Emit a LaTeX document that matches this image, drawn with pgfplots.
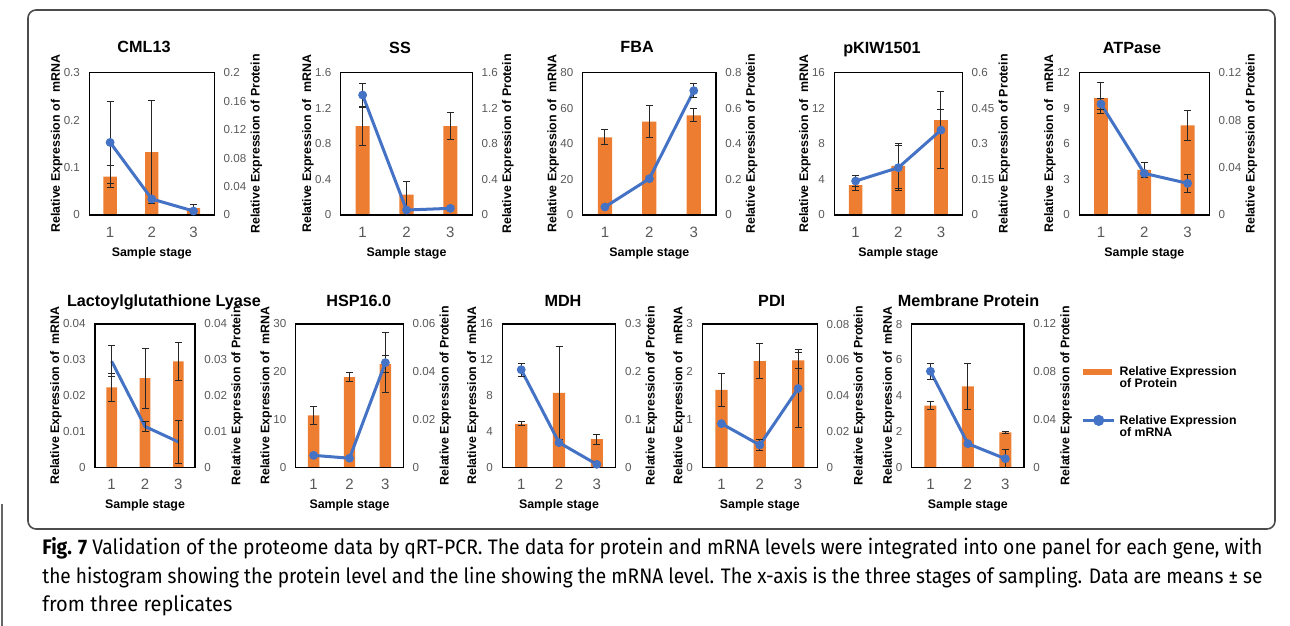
\documentclass[border=0pt]{standalone}
\usepackage{fontspec}
\setmainfont{Liberation Sans}
\newfontfamily\capfont{Fira Sans}
\usepackage{graphicx}
\usepackage{pgfplots}
\pgfplotsset{compat=1.18}

\definecolor{barorange}{HTML}{ED7D31}
\definecolor{lineblue}{HTML}{4472C4}
\definecolor{tickgray}{HTML}{595959}

% 1 px of the reference = 0.5pt
\pgfplotsset{
  every axis title shift=0pt,
  panel/.style={
    scale only axis, anchor=south west,
    xmin=0.5, xmax=3.5, ymin=0,
    axis line style={line width=0.65pt, black},
    major tick length=0pt,
    scaled y ticks=false,
    tick label style={/pgf/number format/assume math mode=true, text=tickgray, inner sep=0pt},
    yticklabel style={font=\fontsize{5.8}{6}\selectfont,
      /pgf/number format/fixed, /pgf/number format/precision=3},
    xticklabel style={font=\fontsize{7.5}{8}\selectfont},
    yticklabel shift=4.5pt, xticklabel shift=5.85pt,
    label style={font=\bfseries\fontsize{6.2}{7}\selectfont, inner sep=0pt},
  },
  protside/.style={panel, ybar, bar width=0.32, xtick=\empty,
    ytick pos=right, yticklabel pos=right,
    ylabel={Relative Expression of Protein}, ylabel shift=2pt},
  mrnaside/.style={panel, xtick={1,2,3}, ytick pos=left, xtick pos=bottom,
    xlabel={Sample stage}, xlabel shift=4.7pt,
    ylabel={Relative Expression of\ \ mRNA}, ylabel shift=0.5pt,
    title style={font=\bfseries\fontsize{8.1}{9}\selectfont,
      at={(rel axis cs:0.5,1)}, anchor=base, inner sep=0pt}},
  row1/.style={height=71.15pt, title style={yshift=9.85pt}},
  row2/.style={height=71.65pt, title style={yshift=8.75pt}},
  bars/.style={fill=barorange, draw=none,
    /pgfplots/error bars/y dir=both, /pgfplots/error bars/y explicit,
    /pgfplots/error bars/error bar style={line width=0.5pt, black!85},
    /pgfplots/error bars/error mark options={rotate=90, mark size=1.75pt, line width=0.5pt, black!85}},
  mrna/.style={lineblue, line width=1.5pt, mark=*, mark size=2pt,
    mark options={fill=lineblue, draw=lineblue, line width=0.4pt},
    /pgfplots/error bars/y dir=both, /pgfplots/error bars/y explicit,
    /pgfplots/error bars/error bar style={line width=0.5pt, black!85},
    /pgfplots/error bars/error mark options={rotate=90, mark size=1.75pt, line width=0.5pt, black!85}},
}

\begin{document}
\begin{tikzpicture}

% frame round the panels, and the edge of the outer box
\draw[line width=0.8pt, black!70, rounded corners=4pt] (14pt,-5pt) rectangle (637.5pt,-264.5pt);
\draw[line width=0.6pt, black!60] (1pt,-252pt) -- (1pt,-313pt);

%% ---------- row 1 ----------
% CML13
\begin{axis}[protside, row1, at={(44.65pt,-107.5pt)}, width=62.5pt,
  ymax=0.2, ytick={0,0.04,0.08,0.12,0.16,0.2}]
\addplot[bars] coordinates {(1,0.0539) +- (0,0.015) (2,0.0885) +- (0,0.072) (3,0.0098) +- (0,0.0056)};
\end{axis}
\begin{axis}[mrnaside, row1, at={(44.65pt,-107.5pt)}, width=62.5pt,
  ymax=0.3, ytick={0,0.1,0.2,0.3}, title={CML13}, title style={xshift=-3.9pt}]
\addplot[mrna] coordinates {(1,0.153) +- (0,0.087) (2,0.0337) +- (0,0) (3,0.0084) +- (0,0.003)};
\end{axis}

% SS
\begin{axis}[protside, row1, at={(170.35pt,-107.5pt)}, width=65.8pt,
  ymax=1.6, ytick={0,0.4,0.8,1.2,1.6}]
\addplot[bars] coordinates {(1,1.0) +- (0,0.214) (2,0.229) +- (0,0.146) (3,1.0) +- (0,0.15)};
\end{axis}
\begin{axis}[mrnaside, row1, at={(170.35pt,-107.5pt)}, width=65.8pt,
  ymax=1.6, ytick={0,0.4,0.8,1.2,1.6}, title={SS}, title style={xshift=-3.25pt}]
\addplot[mrna] coordinates {(1,1.349) +- (0,0.124) (2,0.056) +- (0,0.02) (3,0.075) +- (0,0.02)};
\end{axis}

% FBA
\begin{axis}[protside, row1, at={(291.35pt,-107.5pt)}, width=66.65pt,
  ymax=0.8, ytick={0,0.2,0.4,0.6,0.8}]
\addplot[bars] coordinates {(1,0.437) +- (0,0.042) (2,0.525) +- (0,0.09) (3,0.56) +- (0,0.037)};
\end{axis}
\begin{axis}[mrnaside, row1, at={(291.35pt,-107.5pt)}, width=66.65pt,
  ymax=80, ytick={0,20,40,60,80}, title={FBA}, title style={xshift=-6.15pt}]
\addplot[mrna] coordinates {(1,4.5) +- (0,0.5) (2,20.4) +- (0,1) (3,69.9) +- (0,3.9)};
\end{axis}

% pKIW1501
\begin{axis}[protside, row1, at={(417.15pt,-107.5pt)}, width=64pt,
  ymax=0.6, ytick={0,0.15,0.3,0.45,0.6}]
\addplot[bars] coordinates {(1,0.126) +- (0,0.024) (2,0.207) +- (0,0.096) (3,0.40) +- (0,0.046)};
\end{axis}
\begin{axis}[mrnaside, row1, at={(417.15pt,-107.5pt)}, width=64pt,
  ymax=16, ytick={0,4,8,12,16}, title={pKIW1501}, title style={xshift=-8.15pt}]
\addplot[mrna] coordinates {(1,3.82) +- (0,0.67) (2,5.32) +- (0,2.55) (3,9.55) +- (0,4.35)};
\end{axis}

% ATPase
\begin{axis}[protside, row1, at={(539.65pt,-107.5pt)}, width=65pt,
  ymax=0.12, ytick={0,0.04,0.08,0.12}]
\addplot[bars] coordinates {(1,0.0986) +- (0,0.0129) (2,0.038) +- (0,0.0064) (3,0.0756) +- (0,0.0125)};
\end{axis}
\begin{axis}[mrnaside, row1, at={(539.65pt,-107.5pt)}, width=65pt,
  ymax=12, ytick={0,3,6,9,12}, title={ATPase}, title style={xshift=-6.15pt}]
\addplot[mrna] coordinates {(1,9.36) +- (0,0.45) (2,3.51) +- (0,0.2) (3,2.67) +- (0,0.76)};
\end{axis}

%% ---------- row 2 ----------
% Lactoylglutathione Lyase
\begin{axis}[protside, row2, at={(47.5pt,-233.65pt)}, width=50pt,
  ymax=0.04, ytick={0,0.01,0.02,0.03,0.04}]
\addplot[bars] coordinates {(1,0.0223) +- (0,0.004) (2,0.0249) +- (0,0.0084) (3,0.0296) +- (0,0.0053)};
\end{axis}
\begin{axis}[mrnaside, row2, at={(47.5pt,-233.65pt)}, width=50pt,
  ymax=0.04, ytick={0,0.01,0.02,0.03,0.04}, title={Lactoylglutathione Lyase}, title style={xshift=9.5pt}]
\addplot[mrna, mark=none] coordinates {(1,0.0296) +- (0,0.0043) (2,0.0114) +- (0,0.0015) (3,0.0071) +- (0,0.0059)};
\end{axis}

% HSP16.0
\begin{axis}[protside, row2, at={(147.85pt,-233.65pt)}, width=53.8pt,
  ymax=0.06, ytick={0,0.02,0.04,0.06}]
\addplot[bars] coordinates {(1,0.0217) +- (0,0.0039) (2,0.0378) +- (0,0.0017) (3,0.0432) +- (0,0.0036)};
\end{axis}
\begin{axis}[mrnaside, row2, at={(147.85pt,-233.65pt)}, width=53.8pt,
  ymax=30, ytick={0,10,20,30}, title={HSP16.0}, title style={xshift=4.65pt}]
\addplot[mrna] coordinates {(1,2.5) +- (0,0) (2,1.9) +- (0,0) (3,21.9) +- (0,6.3)};
\end{axis}

% MDH
\begin{axis}[protside, row2, at={(251.15pt,-233.65pt)}, width=56.7pt,
  ymax=0.3, ytick={0,0.1,0.2,0.3}]
\addplot[bars] coordinates {(1,0.091) +- (0,0.0039) (2,0.156) +- (0,0.097) (3,0.059) +- (0,0.0103)};
\end{axis}
\begin{axis}[mrnaside, row2, at={(251.15pt,-233.65pt)}, width=56.7pt,
  ymax=16, ytick={0,4,8,12,16}, title={MDH}, title style={xshift=2pt}]
\addplot[mrna] coordinates {(1,10.9) +- (0,0.74) (2,2.76) +- (0,0) (3,0.33) +- (0,0.37)};
\end{axis}

% PDI
\begin{axis}[protside, row2, at={(351.15pt,-233.65pt)}, width=57.5pt,
  ymax=0.08, ytick={0,0.02,0.04,0.06,0.08}]
\addplot[bars] coordinates {(1,0.0432) +- (0,0.0093) (2,0.0593) +- (0,0.0097) (3,0.0597) +- (0,0.0045)};
\end{axis}
\begin{axis}[mrnaside, row2, at={(351.15pt,-233.65pt)}, width=57.5pt,
  ymax=3, ytick={0,1,2,3}, title={PDI}, title style={xshift=5.95pt}]
\addplot[mrna] coordinates {(1,0.914) +- (0,0) (2,0.467) +- (0,0.112) (3,1.65) +- (0,0.816)};
\end{axis}

% Membrane Protein (carries the legend)
\begin{axis}[protside, row2, at={(455.85pt,-233.65pt)}, width=56.15pt,
  ymax=0.12, ytick={0,0.04,0.08,0.12}]
\addplot[bars] coordinates {(1,0.0516) +- (0,0.0034) (2,0.0678) +- (0,0.0193) (3,0.0293) +- (0,0.0008)};
\end{axis}
\begin{axis}[mrnaside, row2, at={(455.85pt,-233.65pt)}, width=56.15pt,
  ymax=8, ytick={0,2,4,6,8}, title={Membrane Protein}, title style={xshift=0.35pt},
  legend style={at={(axis description cs:1.498,0.734)}, anchor=north west,
    draw=none, fill=none, inner sep=0pt,
    font=\bfseries\fontsize{6.15}{6}\selectfont,
    cells={anchor=west, align=left, inner xsep=1pt}, row sep=8.5pt},
  legend cell align=left]
\addplot[mrna, forget plot] coordinates {(1,5.36) +- (0,0.45) (2,1.32) +- (0,0) (3,0.48) +- (0,0.52)};
\addlegendimage{legend image code/.code={\draw[barorange, line width=3pt] (0pt,3.2pt) -- (14.5pt,3.2pt);}}
\addlegendimage{legend image code/.code={\draw[lineblue, line width=1.5pt, mark=*, mark size=2pt,
  mark options={fill=lineblue}, mark repeat=2, mark phase=2]
  plot coordinates {(0pt,3.5pt) (7.7pt,3.5pt) (15.4pt,3.5pt)};}}
\legend{{Relative Expression\\of Protein},{Relative Expression\\of mRNA}}
\end{axis}

%% ---------- caption ----------
\node[anchor=base west, inner sep=0pt] at (21pt,-277pt)
  {\resizebox{610pt}{\height}{\capfont\fontsize{10.5}{12}\selectfont\textbf{Fig. 7} Validation of the proteome data by qRT-PCR. The data for protein and mRNA levels were integrated into one panel for each gene, with}};
\node[anchor=base west, inner sep=0pt] at (21pt,-291.5pt)
  {\resizebox{610pt}{\height}{\capfont\fontsize{10.5}{12}\selectfont the histogram showing the protein level and the line showing the mRNA level. The x-axis is the three stages of sampling. Data are means ± se}};
\node[anchor=base west, inner sep=0pt] at (21pt,-305.5pt)
  {\resizebox{95pt}{\height}{\capfont\fontsize{10.5}{12}\selectfont from three replicates}};

\pgfresetboundingbox
\useasboundingbox (0pt,0pt) rectangle (645pt,-313pt);
\end{tikzpicture}
\end{document}
